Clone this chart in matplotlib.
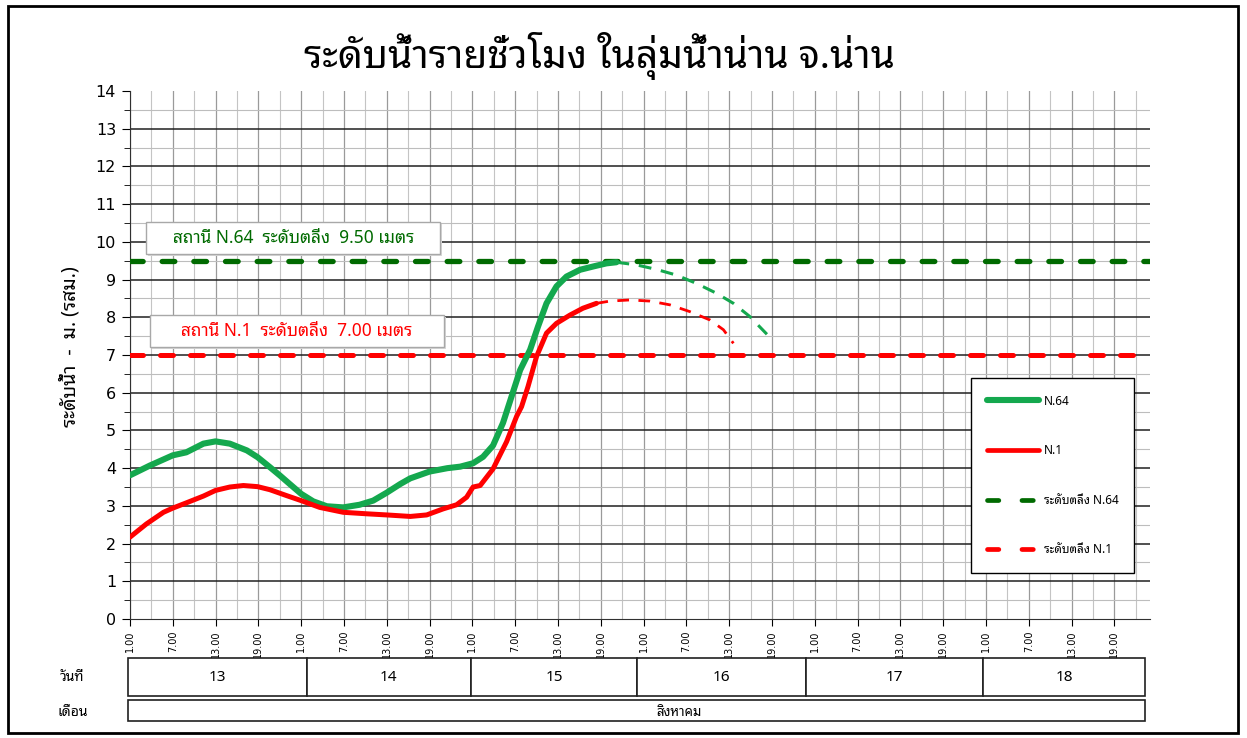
import matplotlib
matplotlib.use("Agg")
import matplotlib.pyplot as plt
import matplotlib.transforms as mtransforms
from matplotlib.patches import Rectangle
from matplotlib.lines import Line2D
from matplotlib.ticker import MultipleLocator, FixedLocator

plt.rcParams['font.family'] = ['Noto Sans Thai Looped', 'DejaVu Sans']

# --- data (x = hours since 13 Aug 1:00) ---
n64_hours = [0, 2.8, 6, 7.9, 10.3, 12, 14, 16.4, 17.9, 19.6, 21, 22.4, 24, 25.7, 27.6,
             29.9, 32.2, 34.1, 36, 37.9, 39.3, 42, 44.5, 46.3, 48.1, 49.5, 50.9, 52.3,
             53.5, 54.7, 56.1, 57.2, 58.4, 59.8, 61.2, 63.1, 65, 66.8, 68.2]
n64_level = [3.81, 4.07, 4.34, 4.42, 4.65, 4.71, 4.65, 4.47, 4.29, 4.03, 3.81, 3.58, 3.32,
             3.12, 2.99, 2.96, 3.03, 3.14, 3.35, 3.58, 3.73, 3.91, 4.0, 4.04, 4.13, 4.3,
             4.6, 5.2, 5.9, 6.6, 7.14, 7.75, 8.37, 8.82, 9.08, 9.26, 9.35, 9.43, 9.46]
n64_fc_hours = [68.2, 71, 73.8, 76.6, 79.4, 82.2, 84.6, 86.9, 89.3]
n64_fc_level = [9.46, 9.39, 9.27, 9.12, 8.9, 8.64, 8.37, 8.02, 7.55]

n1_hours = [0, 2.3, 4.7, 6, 7.9, 10.3, 12, 14, 15.9, 17.9, 19.6, 22, 24, 26.6, 29.9, 33.2,
            36, 39.3, 41.6, 43.9, 45.8, 47.2, 48.1, 49.1, 50.9, 52.8, 54.2, 54.9, 55.8,
            57, 58.4, 59.8, 61.7, 63.5, 65.4]
n1_level = [2.17, 2.52, 2.83, 2.94, 3.08, 3.26, 3.41, 3.5, 3.54, 3.51, 3.43, 3.27, 3.14,
            2.96, 2.83, 2.79, 2.76, 2.72, 2.76, 2.92, 3.03, 3.23, 3.5, 3.54, 3.98, 4.7,
            5.37, 5.63, 6.16, 6.96, 7.58, 7.84, 8.06, 8.24, 8.37]
n1_fc_hours = [65.4, 67.3, 70.1, 72.9, 75.7, 78.5, 81.3, 83.2, 84.6]
n1_fc_level = [8.37, 8.43, 8.46, 8.43, 8.33, 8.15, 7.93, 7.67, 7.31]

bank_n64 = 9.50
bank_n1 = 7.00

hour_labels = ['1.00', '7.00', '13.00', '19.00']
days = ['13', '14', '15', '16', '17', '18']
day_edges = [-0.3, 24.8, 47.8, 71.1, 94.8, 119.6, 142.3]
month = 'สิงหาคม'

GREEN = '#14a84e'
DKGREEN = '#006a00'
RED = '#ff0000'

fig = plt.figure(figsize=(12.47, 7.38), dpi=100)
ax = fig.add_axes([0.1042, 0.1612, 0.818, 0.7155])

# grid
ax.set_xlim(0, 143)
ax.set_ylim(0, 14)
for h in range(0, 143, 3):
    ax.axvline(h, color='#9a9a9a' if h % 6 == 0 else '#c4c4c4', lw=0.9 if h % 6 == 0 else 0.8, zorder=0)
for k in range(1, 28):
    v = k * 0.5
    ax.axhline(v, color='#202020' if k % 2 == 0 else '#bdbdbd', lw=1.1 if k % 2 == 0 else 0.8, zorder=0)

# bank levels
ax.plot([0, 143], [bank_n64, bank_n64], color=DKGREEN, lw=3.8, dashes=(2.4, 3.6),
        dash_capstyle='round', zorder=3)
ax.plot([0, 143], [bank_n1, bank_n1], color=RED, lw=3.6, dashes=(2.6, 3.4),
        dash_capstyle='round', zorder=3)

# forecasts
ax.plot(n64_fc_hours, n64_fc_level, color=GREEN, lw=2.2, dashes=(4.2, 3.2), zorder=4)
ax.plot(n1_fc_hours, n1_fc_level, color=RED, lw=2.0, dashes=(4.2, 3.4), zorder=4)

# observed
ax.plot(n64_hours, n64_level, color=GREEN, lw=4.4, solid_capstyle='round', zorder=5)
ax.plot(n1_hours, n1_level, color=RED, lw=3.6, solid_capstyle='round', zorder=6)

# label boxes
for (x0, y0, w, h, tx, ty, txt, col) in [
        (2.2, 9.68, 41.2, 0.85, 22.9, 10.1, 'สถานี N.64  ระดับตลิ่ง  9.50 เมตร', DKGREEN),
        (2.8, 7.21, 41.2, 0.85, 23.4, 7.64, 'สถานี N.1  ระดับตลิ่ง  7.00 เมตร', RED)]:
    ax.add_patch(Rectangle((x0 + 0.3, y0 - 0.05), w, h, facecolor='#d8d8d8', edgecolor='none', zorder=6))
    ax.add_patch(Rectangle((x0, y0), w, h, facecolor='white', edgecolor='#a8a8a8', lw=1, zorder=7))
    ax.text(tx, ty, txt, color=col, fontsize=12.5, ha='center', va='center', zorder=8)

# axes styling
for s in ['top', 'right']:
    ax.spines[s].set_visible(False)
ax.spines['left'].set_color('#303030')
ax.spines['bottom'].set_color('#303030')
ax.yaxis.set_major_locator(MultipleLocator(1))
ax.yaxis.set_minor_locator(MultipleLocator(0.5))
ax.xaxis.set_major_locator(FixedLocator(list(range(0, 143, 6))))
ax.set_xticklabels([hour_labels[i % 4] for i in range(len(range(0, 143, 6)))],
                   rotation=90, fontsize=7, family='DejaVu Sans')
ax.tick_params(axis='y', which='major', length=6, labelsize=11.5, pad=4)
ax.tick_params(axis='y', which='minor', length=4)
ax.tick_params(axis='x', length=5, pad=3)
for lab in ax.get_yticklabels():
    lab.set_family('DejaVu Sans')

# legend
handles = [Line2D([], [], color=GREEN, lw=4.4, solid_capstyle='round'),
           Line2D([], [], color=RED, lw=3.4, solid_capstyle='round'),
           Line2D([], [], color=DKGREEN, lw=3.4, dashes=(2.4, 4.9), dash_capstyle='round'),
           Line2D([], [], color=RED, lw=3.4, dashes=(2.4, 4.9), dash_capstyle='round')]
labels = ['N.64', 'N.1', 'ระดับตลิ่ง N.64', 'ระดับตลิ่ง N.1']
leg = ax.legend(handles, labels, loc='upper left', bbox_to_anchor=(0.8245, 0.4564, 0.16, 0.0),
                mode='expand', fontsize=8.5, handlelength=4.4, handletextpad=0.4, labelspacing=3.1,
                borderpad=1.4, borderaxespad=0, fancybox=False, framealpha=1, edgecolor='black')
leg.get_frame().set_linewidth(1.0)
leg.set_zorder(10)

# title and y label
fig.text(0.481, 0.924, 'ระดับน้ำรายชั่วโมง ในลุ่มน้ำน่าน จ.น่าน', fontsize=28, ha='center', va='center')
fig.text(0.056, 0.53, 'ระดับน้ำ  -  ม. (รสม.)', fontsize=14, rotation=90, ha='center', va='center')

# day / month table below the chart
tr = mtransforms.blended_transform_factory(ax.transData, fig.transFigure)
for i, d in enumerate(days):
    fig.add_artist(Rectangle((day_edges[i], 0.0569), day_edges[i + 1] - day_edges[i], 0.0515,
                             transform=tr, facecolor='white', edgecolor='#202020', lw=1.2))
    fig.text((day_edges[i] + day_edges[i + 1]) / 2, 0.0826, d, transform=tr, fontsize=11,
             ha='center', va='center')
fig.add_artist(Rectangle((day_edges[0], 0.023), day_edges[-1] - day_edges[0], 0.0285,
                         transform=tr, facecolor='white', edgecolor='#202020', lw=1.2))
fig.text(77.0, 0.035, month, transform=tr, fontsize=9.5, ha='center', va='center')
fig.text(0.058, 0.0826, 'วันที่', fontsize=10, ha='center', va='center')
fig.text(0.058, 0.034, 'เดือน', fontsize=10, ha='center', va='center')

# outer frame
fig.add_artist(Rectangle((0.0065, 0.007), 0.986, 0.985, transform=fig.transFigure,
                         facecolor='none', edgecolor='black', lw=2))

fig.savefig('out.png', dpi=100)
